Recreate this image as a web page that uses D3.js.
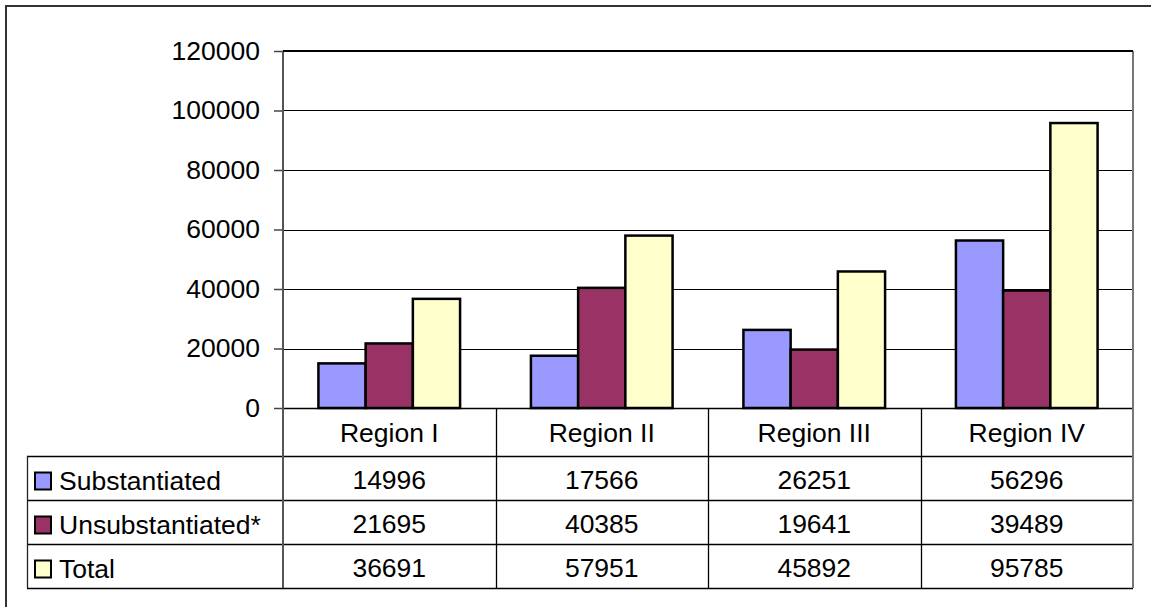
<!DOCTYPE html>
<html>
<head>
<meta charset="utf-8">
<script src="https://cdn.jsdelivr.net/npm/d3@7"></script>
<style>
  html, body { margin: 0; padding: 0; background: #fff; }
  svg { display: block; }
  text { font-family: "Liberation Sans", Arial, sans-serif; fill: #000; }
</style>
</head>
<body>
<svg id="chart" width="1151" height="607"></svg>
<script>
// Regions shown along the category axis and in the data table
const regions = ["Region I", "Region II", "Region III", "Region IV"];
const seriesNames = ["Substantiated", "Unsubstantiated*", "Total"];
const substantiated = [14996, 17566, 26251, 56296];
const unsubstantiated = [21695, 40385, 19641, 39489];
const total = [36691, 57951, 45892, 95785];
const seriesColors = ["#9999FF", "#993366", "#FFFFCC"];
const yTicks = [0, 20000, 40000, 60000, 80000, 100000, 120000];

const seriesValues = [substantiated, unsubstantiated, total];

const svg = d3.select("#chart");
const W = 1151, H = 607;

// layout
const plot = { left: 283, right: 1133, top: 51, bottom: 408 };
const tableLeft = 27;
const headerBottom = 456;
const rowH = 44;
const FONT = 26.5;

// outer chart border
svg.append("rect")
  .attr("x", 6).attr("y", 6)
  .attr("width", W + 10).attr("height", H + 10)
  .attr("fill", "none").attr("stroke", "#333").attr("stroke-width", 2);

const x0 = d3.scaleBand().domain(regions).range([plot.left, plot.right]).paddingInner(0).paddingOuter(0);
const x1 = d3.scaleBand().domain(seriesNames).range([0, x0.bandwidth()]).paddingInner(0).paddingOuter(0.75);
const y = d3.scaleLinear().domain([0, 120000]).range([plot.bottom, plot.top]);

// horizontal gridlines
svg.append("g").selectAll("line").data(yTicks).join("line")
  .attr("x1", plot.left).attr("x2", plot.right)
  .attr("y1", d => Math.round(y(d)) + 0.5).attr("y2", d => Math.round(y(d)) + 0.5)
  .attr("stroke", "#000").attr("stroke-width", 1);

// y axis
const yAxis = d3.axisLeft(y).tickValues(yTicks).tickSize(9).tickPadding(14).tickFormat(d3.format("d"));
const gy = svg.append("g").attr("transform", `translate(${plot.left},0)`).call(yAxis);
gy.select(".domain").remove();
gy.selectAll(".tick line").attr("stroke", "#444").attr("stroke-width", 1.5);
gy.selectAll(".tick text")
  .style("font-family", '"Liberation Sans", Arial, sans-serif')
  .style("font-size", FONT + "px")
  .attr("fill", "#000");

// bars
const groups = svg.append("g").selectAll("g").data(regions).join("g")
  .attr("transform", d => `translate(${x0(d)},0)`);
groups.selectAll("rect")
  .data((r, i) => seriesNames.map((s, j) => ({ s, j, v: seriesValues[j][i] })))
  .join("rect")
  .attr("x", d => x1(d.s))
  .attr("y", d => y(d.v))
  .attr("width", x1.bandwidth())
  .attr("height", d => y(0) - y(d.v))
  .attr("fill", d => seriesColors[d.j])
  .attr("stroke", "#000").attr("stroke-width", 2.5);

// data table lines
const tbl = svg.append("g").attr("stroke-width", 1.3);
const tableBottom = headerBottom + rowH * seriesNames.length;
// horizontal rules
tbl.append("line").attr("x1", plot.left).attr("x2", plot.right)
  .attr("y1", plot.bottom + 0.5).attr("y2", plot.bottom + 0.5).attr("stroke", "#000");
d3.range(seriesNames.length + 1).forEach(k => {
  const yy = headerBottom + k * rowH + 0.5;
  tbl.append("line").attr("x1", tableLeft).attr("x2", plot.right)
    .attr("y1", yy).attr("y2", yy).attr("stroke", "#000");
});
// vertical rules
tbl.append("line").attr("x1", tableLeft + 0.5).attr("x2", tableLeft + 0.5)
  .attr("y1", headerBottom).attr("y2", tableBottom).attr("stroke", "#222");
tbl.append("line").attr("x1", plot.left).attr("x2", plot.left)
  .attr("y1", plot.top).attr("y2", tableBottom).attr("stroke", "#555").attr("stroke-width", 2);
regions.slice(1).forEach(r => {
  tbl.append("line").attr("x1", Math.round(x0(r)) + 0.5).attr("x2", Math.round(x0(r)) + 0.5)
    .attr("y1", plot.bottom).attr("y2", tableBottom).attr("stroke", "#000");
});
tbl.append("line").attr("x1", plot.right).attr("x2", plot.right)
  .attr("y1", plot.top).attr("y2", tableBottom).attr("stroke", "#777").attr("stroke-width", 2);
// top border of plot
svg.append("line").attr("x1", plot.left).attr("x2", plot.right)
  .attr("y1", plot.top).attr("y2", plot.top).attr("stroke", "#000").attr("stroke-width", 2);

// category headers
svg.append("g").selectAll("text").data(regions).join("text")
  .attr("x", d => x0(d) + x0.bandwidth() / 2)
  .attr("y", plot.bottom + 34)
  .attr("text-anchor", "middle")
  .style("font-size", FONT + "px")
  .text(d => d);

// table rows: legend key, series name, values
seriesNames.forEach((s, j) => {
  const top = headerBottom + j * rowH;
  svg.append("rect")
    .attr("x", 35).attr("y", top + 16.5)
    .attr("width", 16).attr("height", 17)
    .attr("fill", seriesColors[j]).attr("stroke", "#000").attr("stroke-width", 2);
  svg.append("text")
    .attr("x", 59).attr("y", top + 34)
    .style("font-size", FONT + "px")
    .text(s);
  svg.append("g").selectAll("text").data(regions).join("text")
    .attr("x", d => x0(d) + x0.bandwidth() / 2)
    .attr("y", top + 33)
    .attr("text-anchor", "middle")
    .style("font-size", FONT + "px")
    .text((d, i) => seriesValues[j][i]);
});
</script>
</body>
</html>
